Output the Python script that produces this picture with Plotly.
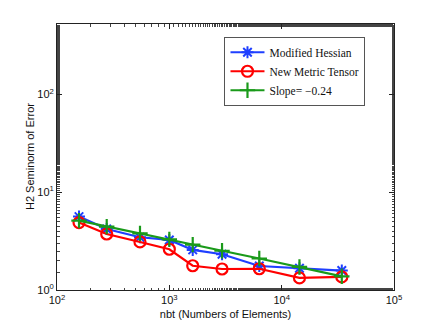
import plotly.graph_objects as go

nbt = [157, 277, 548, 1000, 1615, 2946, 6320, 14400, 34300]
modified_hessian = [5.63, 4.2, 3.46, 3.25, 2.57, 2.32, 1.76, 1.67, 1.58]
new_metric_tensor = [4.89, 3.74, 3.10, 2.61, 1.77, 1.64, 1.65, 1.33, 1.36]
slope_line = [5.12, 4.45, 3.79, 3.29, 2.91, 2.52, 2.1, 1.72, 1.38]

names = ["Modified Hessian", "New Metric Tensor", "Slope= \u22120.24"]
x_tickvals = [100, 1000, 10000, 100000]
x_ticktext = ["10<sup>2</sup>", "10<sup>3</sup>", "10<sup>4</sup>", "10<sup>5</sup>"]
y_tickvals = [1, 10, 100]
y_ticktext = ["10<sup>0</sup>", "10<sup>1</sup>", "10<sup>2</sup>"]

fig = go.Figure()
fig.add_trace(go.Scatter(
    x=nbt, y=modified_hessian, name=names[0], mode="lines+markers",
    line=dict(color="#1f3fff", width=2.2),
    marker=dict(symbol="asterisk-open", size=10, color="#1f3fff",
                line=dict(color="#1f3fff", width=2))))
fig.add_trace(go.Scatter(
    x=nbt, y=new_metric_tensor, name=names[1], mode="lines+markers",
    line=dict(color="#ff0000", width=2.2),
    marker=dict(symbol="circle-open", size=11, color="#ff0000",
                line=dict(color="#ff0000", width=2.2))))
fig.add_trace(go.Scatter(
    x=nbt, y=slope_line, name=names[2], mode="lines+markers",
    line=dict(color="#1a9a1a", width=2.2),
    marker=dict(symbol="cross-thin-open", size=11, color="#1a9a1a",
                line=dict(color="#1a9a1a", width=2.2))))

axis_common = dict(
    type="log", showgrid=False, zeroline=False, automargin=False,
    showline=True, linecolor="#222", linewidth=1, mirror="ticks",
    ticks="inside", ticklen=5, tickcolor="#222",
    tickfont=dict(family="Liberation Sans, Arial", size=11, color="#111"),
    minor=dict(ticks="inside", ticklen=2.5, tickcolor="#444", showgrid=False),
)

fig.update_layout(
    width=436, height=328,
    margin=dict(l=57, r=42, t=24, b=38, autoexpand=False),
    paper_bgcolor="white", plot_bgcolor="white",
    font=dict(family="Liberation Sans, Arial", size=11, color="#111"),
    xaxis=dict(axis_common, range=[2, 5], tickmode="array",
               tickvals=x_tickvals, ticktext=x_ticktext,
               title=dict(text="nbt (Numbers of Elements)", standoff=5,
                          font=dict(size=11))),
    yaxis=dict(axis_common, range=[0, 2.72], tickmode="array",
               tickvals=y_tickvals, ticktext=y_ticktext),
    legend=dict(x=0.497, y=0.952, xanchor="left", yanchor="top",
                bgcolor="white", bordercolor="#555", borderwidth=1,
                font=dict(family="Liberation Serif, DejaVu Serif, serif", size=11.5),
                tracegroupgap=5, itemwidth=34),
    showlegend=True,
    annotations=[dict(text="H2 Seminorm of Error", textangle=-90,
                      xref="paper", yref="paper", x=-0.08, y=0.5,
                      xanchor="center", yanchor="middle", showarrow=False,
                      font=dict(family="Liberation Sans, Arial", size=11, color="#111"))],
)

fig.write_html("out.html", post_script="document.body.style.margin='0';",
               config={"displayModeBar": False})
